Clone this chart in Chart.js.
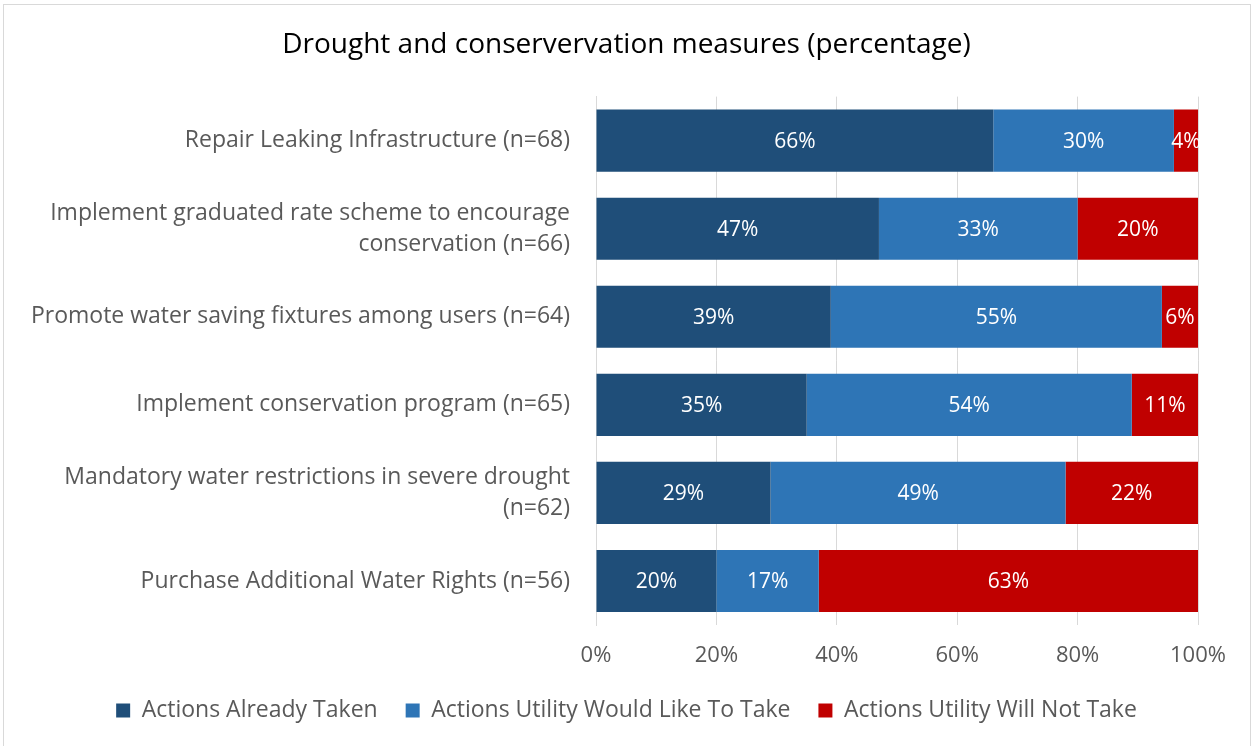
<!DOCTYPE html>
<html>
<head>
<meta charset="utf-8">
<script src="https://cdn.jsdelivr.net/npm/chart.js@4"></script>
<style>
   html, body { margin: 0; padding: 0; background: #fff; }
   #frame {
      position: absolute; left: 3px; top: 4px; width: 1248px; height: 760px;
      border: 1px solid #d9d9d9; box-sizing: border-box;
   }
   #wrap { position: absolute; left: 0; top: 0; width: 1253px; height: 746px; }
</style>
</head>
<body>
<div id="frame"></div>
<div id="wrap"><canvas id="droughtChart" width="1253" height="746"></canvas></div>
<script>
const measureLabels = [
   'Repair Leaking Infrastructure (n=68)',
   ['Implement graduated rate scheme to encourage', 'conservation (n=66)'],
   'Promote water saving fixtures among users (n=64)',
   'Implement conservation program (n=65)',
   ['Mandatory water restrictions in severe drought', '(n=62)'],
   'Purchase Additional Water Rights (n=56)'
];
const alreadyTaken = [66, 47, 39, 35, 29, 20];
const wouldLikeToTake = [30, 33, 55, 54, 49, 17];
const willNotTake = [4, 20, 6, 11, 22, 63];
const xTicks = [0, 20, 40, 60, 80, 100];

const fontFamily = "'Open Sans', sans-serif";

// white percentage text in the middle of each segment
const segmentLabels = {
   id: 'segmentLabels',
   afterDatasetsDraw(chart) {
      const ctx = chart.ctx;
      ctx.save();
      ctx.fillStyle = '#ffffff';
      ctx.font = '21px ' + fontFamily;
      ctx.textAlign = 'center';
      ctx.textBaseline = 'middle';
      chart.data.datasets.forEach((ds, i) => {
         chart.getDatasetMeta(i).data.forEach((bar, j) => {
            const cx = (bar.x + bar.base) / 2;
            ctx.fillText(ds.data[j] + '%', cx, bar.y + 1);
         });
      });
      ctx.restore();
   }
};

const ctx = document.getElementById('droughtChart').getContext('2d');

new Chart(ctx, {
   type: 'bar',
   data: {
      labels: measureLabels,
      datasets: [{
         label: 'Actions Already Taken',
         data: alreadyTaken,
         backgroundColor: '#1f4e79'
      }, {
         label: 'Actions Utility Would Like To Take',
         data: wouldLikeToTake,
         backgroundColor: '#2e75b6'
      }, {
         label: 'Actions Utility Will Not Take',
         data: willNotTake,
         backgroundColor: '#c00000'
      }]
   },
   options: {
      indexAxis: 'y',
      responsive: false,
      animation: false,
      layout: {
         padding: { left: 0, right: 0, top: 0, bottom: 14 }
      },
      datasets: {
         bar: { categoryPercentage: 1, barPercentage: 0.705 }
      },
      scales: {
         x: {
            stacked: true,
            min: 0,
            max: 100,
            afterBuildTicks: scale => {
               scale.ticks = xTicks.map(v => ({ value: v }));
            },
            afterFit: scale => { scale.height = 46; },
            grid: { color: '#d9d9d9', drawTicks: false },
            border: { display: false },
            ticks: {
               color: '#595959',
               padding: 18,
               font: { family: fontFamily, size: 22 },
               callback: v => v + '%'
            }
         },
         y: {
            stacked: true,
            afterFit: scale => { scale.width = 596; },
            grid: { display: false, drawTicks: false },
            border: { color: '#d9d9d9' },
            ticks: {
               color: '#595959',
               padding: 26,
               font: { family: fontFamily, size: 23, lineHeight: 1.35 },
               autoSkip: false
            }
         },
         // empty strip on the right so title and legend centre on the full width
         yRight: {
            axis: 'y',
            position: 'right',
            afterFit: scale => { scale.width = 55; },
            grid: { display: false, drawTicks: false },
            border: { display: false },
            ticks: { display: false }
         }
      },
      plugins: {
         title: {
            display: true,
            text: 'Drought and conservervation measures (percentage)',
            color: '#000000',
            font: { family: fontFamily, size: 28, weight: 'normal' },
            padding: { top: 28, bottom: 35 }
         },
         legend: {
            position: 'bottom',
            labels: {
               color: '#595959',
               font: { family: fontFamily, size: 23 },
               boxWidth: 14,
               boxHeight: 14,
               padding: 28
            }
         },
         tooltip: { enabled: false }
      }
   },
   plugins: [segmentLabels]
});
</script>
</body>
</html>
